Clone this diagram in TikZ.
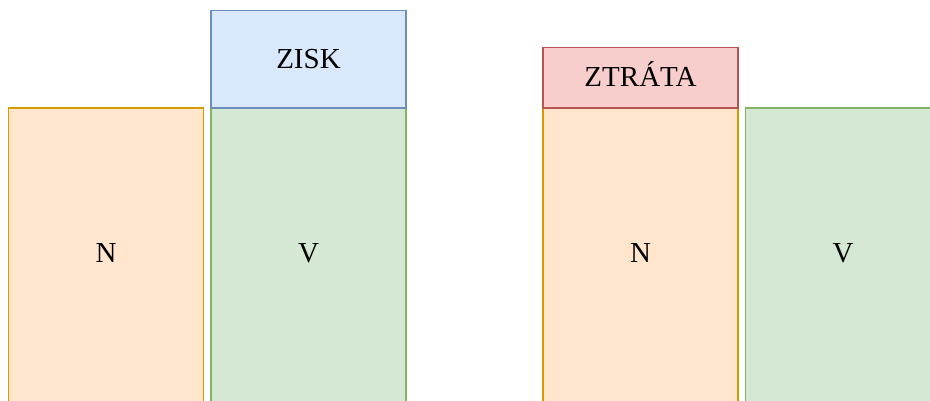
\documentclass[tikz,border=0pt]{standalone}
\usepackage{fontspec}
\setmainfont{Liberation Serif}
\definecolor{costfill}{HTML}{FFE6CC}
\definecolor{costline}{HTML}{D79B00}
\definecolor{revfill}{HTML}{D5E8D4}
\definecolor{revline}{HTML}{82B366}
\definecolor{gainfill}{HTML}{DAE8FC}
\definecolor{gainline}{HTML}{6C8EBF}
\definecolor{lossfill}{HTML}{F8CECC}
\definecolor{lossline}{HTML}{B85450}
\tikzset{
  box/.style={draw, line width=1.3pt, rectangle, inner sep=0pt, outer sep=0pt,
    minimum width=195pt, anchor=north west,
    font=\fontsize{29}{34}\selectfont, text height=19pt},
  tallbox/.style={box, minimum height=296pt, text depth=7pt},
  topbox/.style={box, text depth=1pt},
  costbox/.style={tallbox, fill=costfill, draw=costline},
  revbox/.style={tallbox, fill=revfill, draw=revline},
  gainbox/.style={topbox, fill=gainfill, draw=gainline},
  lossbox/.style={topbox, fill=lossfill, draw=lossline}
}
\begin{document}
\begin{tikzpicture}[x=1pt, y=-1pt]
  \useasboundingbox (0,0) rectangle (930,400);
  \clip (0,0) rectangle (930,400);
  % profit case
  \node[costbox] (n1) at (8.5,108) {N};
  \node[revbox] (v1) at (211,108) {V};
  \node[gainbox, minimum height=97.5pt] (zisk) at (211,10.5) {ZISK};
  % loss case
  \node[costbox] (n2) at (543,108) {N};
  \node[revbox] (v2) at (745.5,108) {V};
  \node[lossbox, minimum height=60.5pt] (ztrata) at (543,47.5) {ZTRÁTA};
\end{tikzpicture}
\end{document}
